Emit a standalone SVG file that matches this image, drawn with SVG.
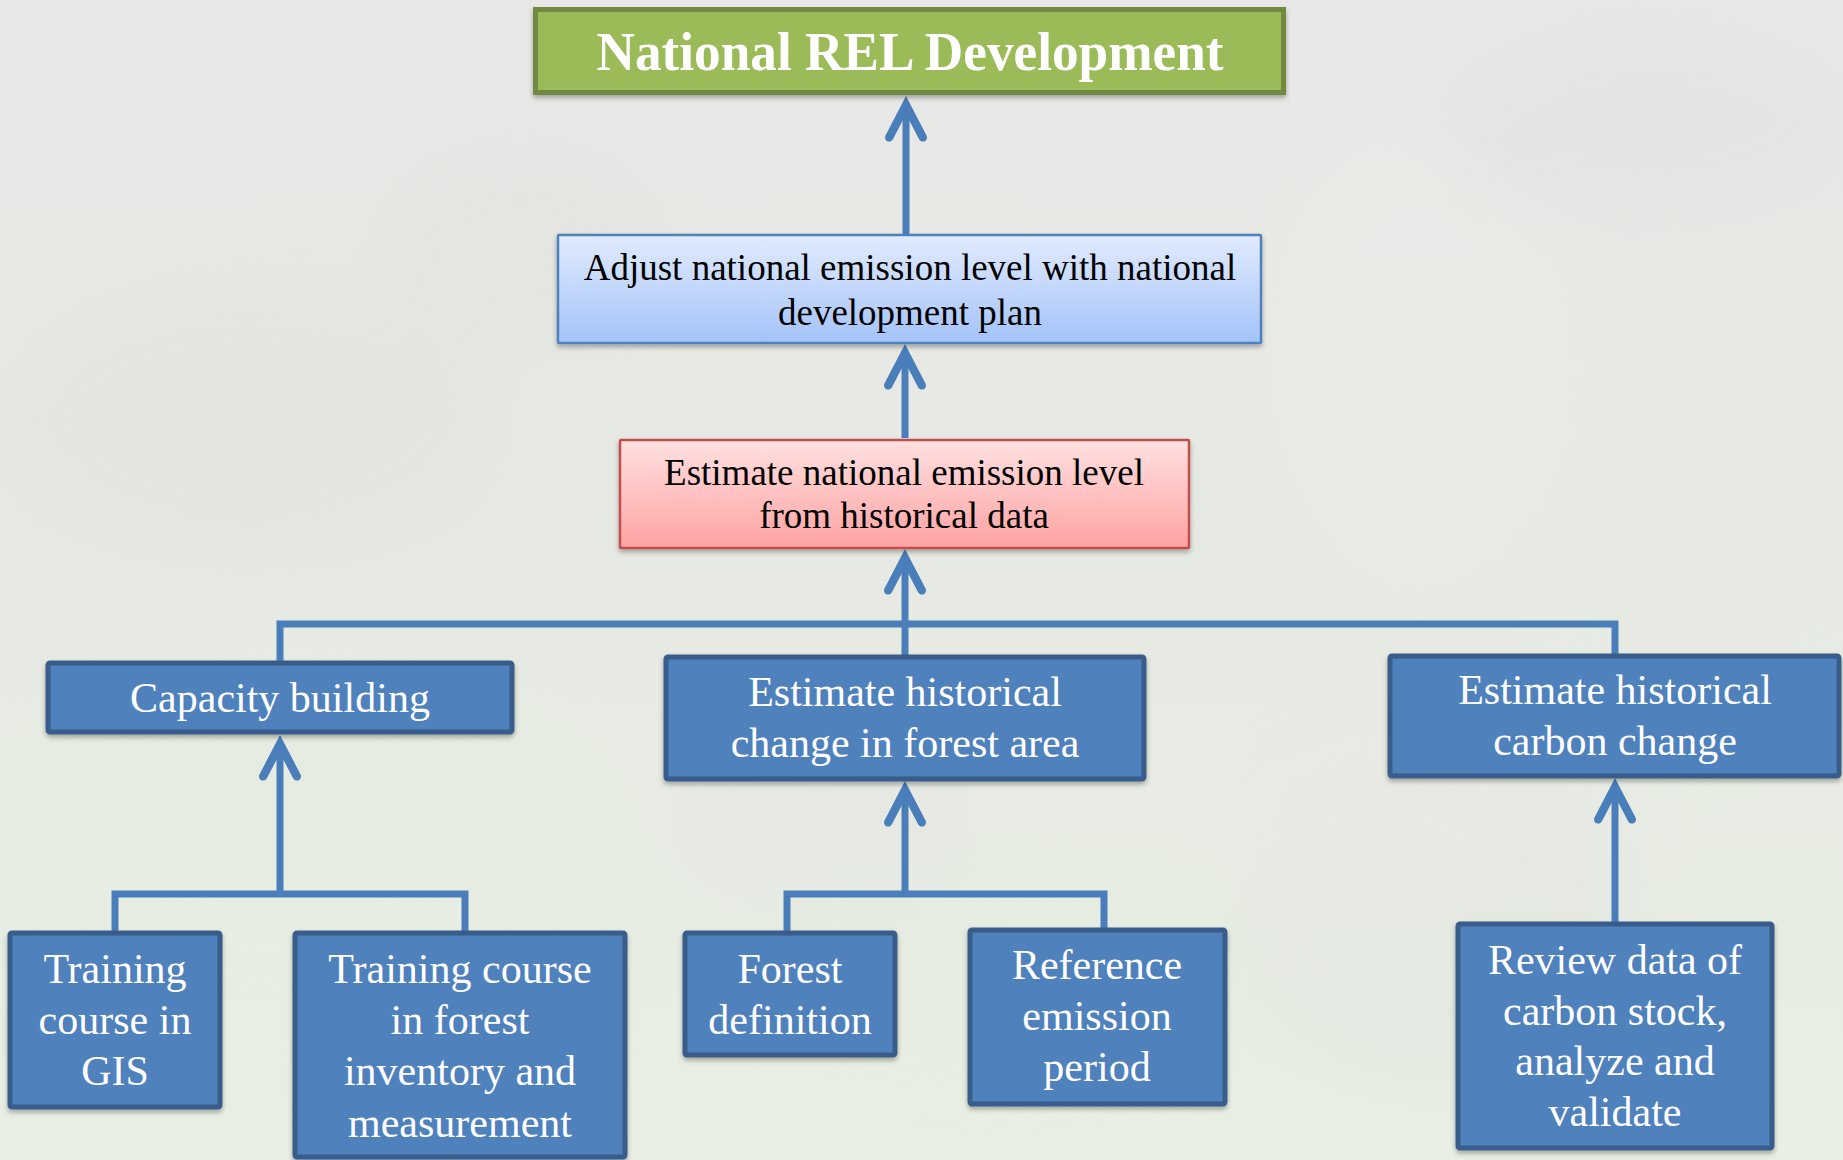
<svg xmlns="http://www.w3.org/2000/svg" width="1843" height="1160" viewBox="0 0 1843 1160">
  <defs>
    <linearGradient id="bg" x1="0" y1="0" x2="0" y2="1">
      <stop offset="0" stop-color="#e8e8e6"/>
      <stop offset="0.45" stop-color="#e6e9e3"/>
      <stop offset="1" stop-color="#e9efe4"/>
    </linearGradient>
    <linearGradient id="gBlue" x1="0" y1="0" x2="0" y2="1">
      <stop offset="0" stop-color="#e1ebfe"/>
      <stop offset="1" stop-color="#a4c3f9"/>
    </linearGradient>
    <linearGradient id="gRed" x1="0" y1="0" x2="0" y2="1">
      <stop offset="0" stop-color="#ffe1e1"/>
      <stop offset="1" stop-color="#ffa2a2"/>
    </linearGradient>
    <filter id="haze" x="-50%" y="-50%" width="200%" height="200%">
      <feGaussianBlur stdDeviation="30"/>
    </filter>
    <filter id="shadow" x="-5%" y="-10%" width="110%" height="130%">
      <feDropShadow dx="0" dy="3" stdDeviation="2.5" flood-color="#000" flood-opacity="0.3"/>
    </filter>
    <marker id="chev" markerUnits="userSpaceOnUse" markerWidth="60" markerHeight="60" viewBox="-40 -25 50 50" refX="0" refY="0" orient="auto" overflow="visible">
      <path d="M-27,-14 L0,0 L-27,14" fill="none" stroke="#4a7ebb" stroke-width="7" stroke-linecap="round" stroke-linejoin="miter"/>
    </marker>
    <style>
      .conn { fill: none; stroke: #4a7ebb; stroke-width: 7; }
      .arrow { marker-end: url(#chev); }
      .box { fill: #4f81bd; stroke: #385d8a; stroke-width: 5; filter: url(#shadow); }
      .wt { font-family: "Liberation Serif", "Times New Roman", serif; font-size: 42px; fill: #ffffff; text-anchor: middle; }
      .bt { font-family: "Liberation Serif", "Times New Roman", serif; font-size: 37px; fill: #000000; text-anchor: middle; }
      .title { font-family: "Liberation Serif", "Times New Roman", serif; font-size: 55px; font-weight: bold; fill: #ffffff; text-anchor: middle; }
    </style>
  </defs>

  <!-- faded forest backdrop -->
  <rect x="0" y="0" width="1843" height="1160" fill="url(#bg)"/>
  <g filter="url(#haze)" opacity="0.3">
    <ellipse cx="250" cy="420" rx="260" ry="150" fill="#dcdedb"/>
    <ellipse cx="520" cy="250" rx="160" ry="120" fill="#dfe1dd"/>
    <ellipse cx="300" cy="820" rx="320" ry="160" fill="#e6efe0"/>
    <ellipse cx="1420" cy="360" rx="160" ry="230" fill="#f0eeec"/>
    <ellipse cx="1440" cy="930" rx="200" ry="160" fill="#dde0dc"/>
    <ellipse cx="1000" cy="1000" rx="260" ry="140" fill="#e5ece0"/>
    <ellipse cx="1650" cy="120" rx="220" ry="110" fill="#dedfdd"/>
    <ellipse cx="1700" cy="600" rx="180" ry="200" fill="#e6ede2"/>
    <ellipse cx="1380" cy="820" rx="140" ry="80" fill="#ece4e3"/>
    <ellipse cx="820" cy="840" rx="150" ry="80" fill="#e0e3df"/>
  </g>

  <!-- connectors -->
  <g id="connectors">
    <path class="conn arrow" d="M906,234 L906,105"/>
    <path class="conn arrow" d="M905,438 L905,353"/>
    <path class="conn arrow" d="M905,655 L905,558"/>
    <path class="conn" d="M280,661 L280,624 L1615,624 L1615,654"/>
    <path class="conn arrow" d="M280,894 L280,744"/>
    <path class="conn" d="M115,931 L115,894 L465,894 L465,931"/>
    <path class="conn arrow" d="M905,894 L905,790"/>
    <path class="conn" d="M787,931 L787,894 L1104,894 L1104,928"/>
    <path class="conn arrow" d="M1615,922 L1615,787"/>
  </g>

  <g id="node-national-rel">
    <rect x="535.5" y="9.5" width="748" height="83" fill="#9bbb59" stroke="#71893f" stroke-width="5" filter="url(#shadow)"/>
    <text class="title" x="910" y="70" textLength="627" lengthAdjust="spacingAndGlyphs">National REL Development</text>
  </g>

  <g id="node-adjust">
    <rect x="558" y="235" width="703" height="108" rx="1" fill="url(#gBlue)" stroke="#4f81bd" stroke-width="2.5" filter="url(#shadow)"/>
    <text class="bt" x="910" y="280">Adjust national emission level with national</text>
    <text class="bt" x="910" y="325">development plan</text>
  </g>

  <g id="node-estimate-national">
    <rect x="620" y="440" width="569" height="108" rx="1" fill="url(#gRed)" stroke="#c0504d" stroke-width="2.5" filter="url(#shadow)"/>
    <text class="bt" x="904" y="485">Estimate national emission level</text>
    <text class="bt" x="904" y="528">from historical data</text>
  </g>

  <g id="node-capacity">
    <rect class="box" x="48" y="663" width="464" height="69" rx="2"/>
    <text class="wt" x="280" y="712">Capacity building</text>
  </g>

  <g id="node-forest-area">
    <rect class="box" x="666" y="657" width="478" height="122" rx="2"/>
    <text class="wt" x="905" y="706">Estimate historical</text>
    <text class="wt" x="905" y="757">change in forest area</text>
  </g>

  <g id="node-carbon-change">
    <rect class="box" x="1390" y="656" width="449" height="120" rx="2"/>
    <text class="wt" x="1615" y="704">Estimate historical</text>
    <text class="wt" x="1615" y="755">carbon change</text>
  </g>

  <g id="node-gis">
    <rect class="box" x="10" y="933" width="210" height="174" rx="2"/>
    <text class="wt" x="115" y="983">Training</text>
    <text class="wt" x="115" y="1034">course in</text>
    <text class="wt" x="115" y="1085">GIS</text>
  </g>

  <g id="node-inventory">
    <rect class="box" x="295" y="933" width="330" height="224" rx="2"/>
    <text class="wt" x="460" y="983">Training course</text>
    <text class="wt" x="460" y="1034">in forest</text>
    <text class="wt" x="460" y="1085">inventory and</text>
    <text class="wt" x="460" y="1137">measurement</text>
  </g>

  <g id="node-forest-definition">
    <rect class="box" x="685" y="933" width="210" height="122" rx="2"/>
    <text class="wt" x="790" y="983">Forest</text>
    <text class="wt" x="790" y="1034">definition</text>
  </g>

  <g id="node-reference-period">
    <rect class="box" x="970" y="930" width="255" height="174" rx="2"/>
    <text class="wt" x="1097" y="979">Reference</text>
    <text class="wt" x="1097" y="1030">emission</text>
    <text class="wt" x="1097" y="1081">period</text>
  </g>

  <g id="node-review">
    <rect class="box" x="1458" y="924" width="314" height="224" rx="2"/>
    <text class="wt" x="1615" y="974">Review data of</text>
    <text class="wt" x="1615" y="1025">carbon stock,</text>
    <text class="wt" x="1615" y="1075">analyze and</text>
    <text class="wt" x="1615" y="1126">validate</text>
  </g>
</svg>
